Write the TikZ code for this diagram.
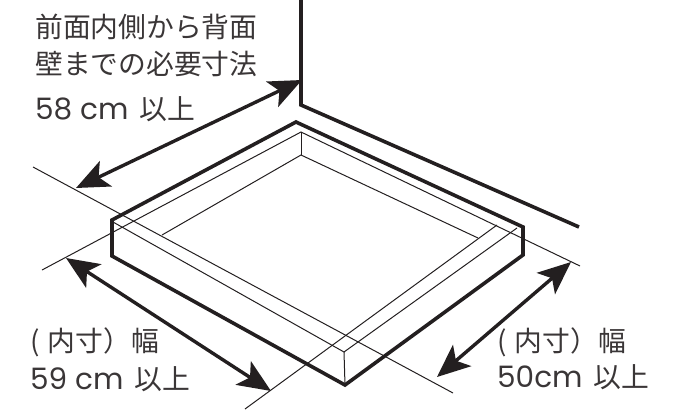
\documentclass[tikz,border=0pt]{standalone}
\usepackage{fontspec}
\setmainfont{Noto Sans CJK JP}
\newfontfamily\latinfont{Poppins}
\newcommand{\numtext}[1]{{\latinfont\fontsize{29.5}{38}\selectfont #1}\hspace{5pt}}
\usetikzlibrary{arrows.meta}
\definecolor{inkline}{HTML}{231F20}
\definecolor{inktext}{HTML}{3A3637}
\tikzset{
	thickline/.style={draw=inkline,line width=3.6pt,line join=miter},
	thinline/.style={draw=inkline,line width=1pt},
	dimline/.style={draw=inkline,line width=3.4pt,{Stealth[length=33pt,width=28pt,inset=8pt]}-{Stealth[length=33pt,width=28pt,inset=8pt]}},
	label/.style={anchor=west,align=left,text=inktext,font=\fontsize{27.8}{38}\selectfont,inner sep=0pt}
}
\begin{document}
\begin{tikzpicture}[x=1pt,y=-1pt]
	\useasboundingbox (0,0) rectangle (681,410);
	% wall
	\coordinate (walltop) at (301,-3);
	\coordinate (wallcorner) at (301,105);
	\coordinate (wallend) at (579,227);
	\draw[thickline] (walltop)--(wallcorner)--(wallend);
	% tray, outer edge
	\coordinate (back) at (296,122);
	\coordinate (right) at (523,227);
	\coordinate (rightlow) at (523,255);
	\coordinate (front) at (345,385);
	\coordinate (leftlow) at (112,256);
	\coordinate (left) at (112,220);
	% tray, thin lines
	\coordinate (innerback) at (301,132);
	\coordinate (floorback) at (301,155);
	\coordinate (floorleft) at (162,235);
	\coordinate (floorright) at (478,238);
	\coordinate (rimfront) at (344,352);
	\coordinate (rimleft) at (113,222);
	\coordinate (rimright) at (517,228);
	\coordinate (extA) at (33,167);
	\coordinate (extB) at (453,393);
	\coordinate (extC) at (42,270);
	\coordinate (extD) at (580,266);
	\coordinate (extE) at (245,409);
	\coordinate (extF) at (497,225);
	\draw[thinline] (extC)--(innerback)--(extD);
	\draw[thinline] (extA)--(extB);
	\draw[thinline] (extE)--(extF);
	\draw[thinline] (innerback)--(floorback);
	\draw[thinline] (floorleft)--(floorback)--(floorright);
	\draw[thinline] (rimleft)--(rimfront)--(rimright);
	\draw[thinline] (rimfront)--(front);
	\draw[thickline] (back)--(right)--(rightlow)--(front)--(leftlow)--(left)--cycle;
	% dimensions
	\coordinate (depthA) at (302,80);
	\coordinate (depthB) at (76,188);
	\coordinate (widthA) at (66,258);
	\coordinate (widthB) at (271,391);
	\coordinate (sideA) at (571,262);
	\coordinate (sideB) at (437,377);
	\draw[dimline] (depthB)--(depthA);
	\draw[dimline] (widthA)--(widthB);
	\draw[dimline] (sideB)--(sideA);
	% labels
	\node[label] at (35,27) (depthone) {前面内側から背面};
	\node[label] at (35,64) (depthtwo) {壁までの必要寸法};
	\node[label] at (35,109) (depthval) {\numtext{58 cm} 以上};
	\node[label] at (30,342) (widthone) {(\hspace{2pt} 内寸）幅};
	\node[label] at (30,379) (widthval) {\numtext{59 cm} 以上};
	\node[label] at (497,342) (sideone) {(\hspace{2pt} 内寸）幅};
	\node[label] at (497,377) (sideval) {\numtext{50cm} 以上};
\end{tikzpicture}
\end{document}
